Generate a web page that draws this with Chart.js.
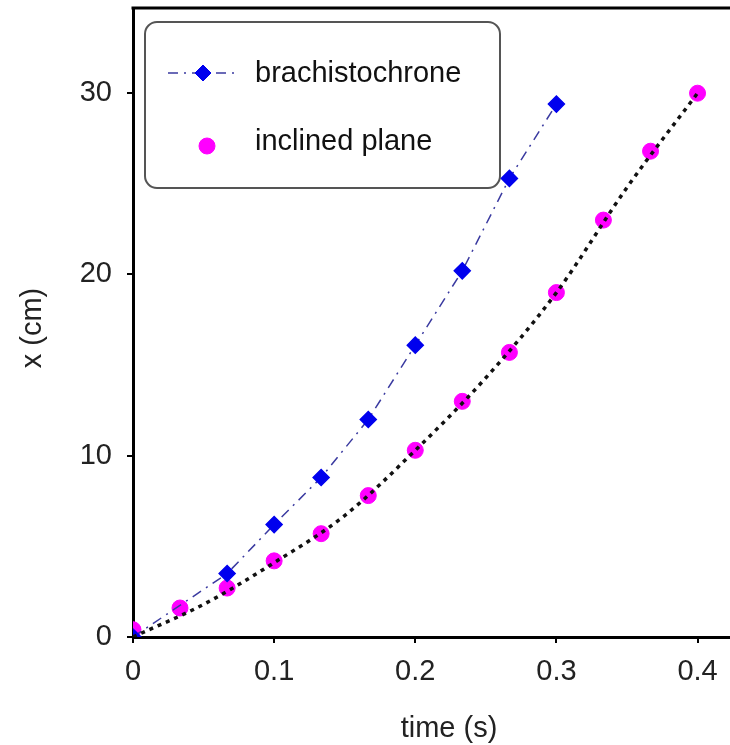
<!DOCTYPE html>
<html>
<head>
<meta charset="utf-8">
<script src="https://cdn.jsdelivr.net/npm/chart.js@4.4.0/dist/chart.umd.min.js"></script>
<style>
  body { margin: 0; background: #fff; }
  #wrap { width: 730px; height: 745px; }
</style>
</head>
<body>
<div id="wrap"><canvas id="chart"></canvas></div>
<script>
const brachTime = [0, 0.0667, 0.1, 0.1333, 0.1667, 0.2, 0.2333, 0.2667, 0.3];
const brachX = [0, 3.5, 6.2, 8.8, 12.0, 16.1, 20.2, 25.3, 29.4];
const planeTime = [0, 0.0333, 0.0667, 0.1, 0.1333, 0.1667, 0.2, 0.2333, 0.2667, 0.3, 0.3333, 0.3667, 0.4];
const planeX = [0.4, 1.6, 2.7, 4.2, 5.7, 7.8, 10.3, 13.0, 15.7, 19.0, 23.0, 26.8, 30.0];
const fitTime = [0, 0.05, 0.1, 0.15, 0.2, 0.25, 0.3, 0.35, 0.4];
const fitX = [0, 1.8, 4.1, 6.7, 10.3, 14.3, 19.0, 24.8, 30.0];
const xTicks = [0, 0.1, 0.2, 0.3, 0.4];
const yTicks = [0, 10, 20, 30];
const legendLabels = ["brachistochrone", "inclined plane"];

const FONT = '"Liberation Sans", Arial, sans-serif';
const BLUE = '#0000ee';
const BLUE_LINE = '#3a3aa0';
const MAGENTA = '#ff00ff';
const BRACH_DASH = [10, 6, 2, 6];

const pts = (xs, ys) => xs.map((x, i) => ({ x, y: ys[i] }));

// legend box, top border, axis titles
const decor = {
  id: 'decor',
  beforeDatasetsDraw(chart) {
    const { ctx } = chart;
    ctx.save();
    ctx.beginPath();
    ctx.roundRect(145, 22, 355, 166, 12);
    ctx.fillStyle = '#fff';
    ctx.fill();
    ctx.strokeStyle = '#555';
    ctx.lineWidth = 2;
    ctx.stroke();

    // brachistochrone entry
    ctx.strokeStyle = BLUE_LINE;
    ctx.lineWidth = 1.5;
    ctx.setLineDash(BRACH_DASH);
    ctx.beginPath();
    ctx.moveTo(168, 73);
    ctx.lineTo(237, 73);
    ctx.stroke();
    ctx.setLineDash([]);
    ctx.fillStyle = BLUE;
    ctx.strokeStyle = BLUE;
    ctx.lineWidth = 1;
    Chart.helpers.drawPoint(ctx, { pointStyle: 'rectRot', radius: 8, borderWidth: 1 }, 203, 73);

    // inclined plane entry
    ctx.fillStyle = MAGENTA;
    ctx.strokeStyle = MAGENTA;
    Chart.helpers.drawPoint(ctx, { pointStyle: 'circle', radius: 8, borderWidth: 1 }, 207, 146);

    ctx.fillStyle = '#111';
    ctx.font = '29px ' + FONT;
    ctx.textAlign = 'left';
    ctx.textBaseline = 'alphabetic';
    ctx.fillText(legendLabels[0], 255, 82);
    ctx.fillText(legendLabels[1], 255, 150);
    ctx.restore();
  },
  afterDraw(chart) {
    const { ctx, chartArea: a } = chart;
    ctx.save();
    ctx.strokeStyle = '#000';
    ctx.lineWidth = 3;
    ctx.beginPath();
    ctx.moveTo(a.left - 1.5, a.top);
    ctx.lineTo(a.right, a.top);
    ctx.stroke();

    ctx.fillStyle = '#222';
    ctx.font = '29px ' + FONT;
    ctx.textAlign = 'center';
    ctx.textBaseline = 'alphabetic';
    ctx.fillText('time (s)', 449, 737);
    ctx.translate(41, 328);
    ctx.rotate(-Math.PI / 2);
    ctx.fillText('x (cm)', 0, 0);
    ctx.restore();
  }
};

new Chart(document.getElementById('chart'), {
  type: 'scatter',
  data: {
    datasets: [
      {
        label: 'fit',
        data: pts(fitTime, fitX),
        showLine: true,
        borderColor: '#111',
        borderWidth: 3.5,
        borderDash: [4, 5],
        pointRadius: 0,
        cubicInterpolationMode: 'monotone',
        order: 0
      },
      {
        label: legendLabels[0],
        data: pts(brachTime, brachX),
        showLine: true,
        borderColor: BLUE_LINE,
        borderWidth: 1.5,
        borderDash: BRACH_DASH,
        pointStyle: 'rectRot',
        pointRadius: 8,
        pointBackgroundColor: BLUE,
        pointBorderColor: BLUE,
        order: 1
      },
      {
        label: legendLabels[1],
        data: pts(planeTime, planeX),
        showLine: false,
        pointStyle: 'circle',
        pointRadius: 8,
        pointBackgroundColor: MAGENTA,
        pointBorderColor: MAGENTA,
        order: 2
      }
    ]
  },
  options: {
    responsive: true,
    maintainAspectRatio: false,
    animation: false,
    layout: { autoPadding: false, padding: { top: 8, left: 0, right: 0, bottom: 0 } },
    plugins: { legend: { display: false }, tooltip: { enabled: false } },
    scales: {
      x: {
        type: 'linear',
        min: 0,
        max: 0.423,
        afterBuildTicks: s => { s.ticks = xTicks.map(v => ({ value: v })); },
        afterFit: s => { s.height = 108; s.paddingLeft = 0; s.paddingRight = 0; },
        ticks: { font: { family: FONT, size: 29 }, color: '#222', padding: 12, maxRotation: 0, callback: v => String(v) },
        grid: { drawOnChartArea: false, tickLength: 6, color: '#000', lineWidth: 2 },
        border: { color: '#000', width: 3 }
      },
      y: {
        type: 'linear',
        min: 0,
        max: 34.7,
        afterBuildTicks: s => { s.ticks = yTicks.map(v => ({ value: v })); },
        afterFit: s => { s.width = 133; s.paddingTop = 0; s.paddingBottom = 0; },
        ticks: { font: { family: FONT, size: 29 }, color: '#222', padding: 15, callback: v => String(v) },
        grid: { drawOnChartArea: false, tickLength: 6, color: '#000', lineWidth: 2 },
        border: { color: '#000', width: 3 }
      }
    }
  },
  plugins: [decor]
});
</script>
</body>
</html>
